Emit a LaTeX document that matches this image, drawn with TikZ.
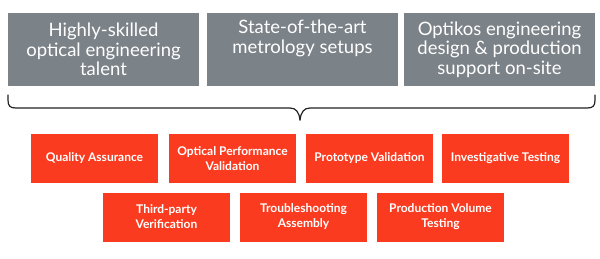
\documentclass[tikz,border=0pt]{standalone}
\usepackage{fontspec}
\setmainfont{Lato}
\definecolor{graybox}{HTML}{7B8288}
\definecolor{redbox}{HTML}{FA3B1F}
\definecolor{bracecol}{HTML}{222222}
\begin{document}
\begin{tikzpicture}[x=1pt,y=-1pt,
  topbox/.style={fill=graybox,draw=none,text=white,minimum width=191pt,minimum height=73pt,align=center,inner sep=0pt,font=\fontsize{18.5}{19.5}\selectfont},
  redb/.style={fill=redbox,draw=none,text=white,minimum width=127pt,minimum height=49pt,align=center,inner sep=0pt,font=\fontsize{12}{15}\selectfont\bfseries},
  bracel/.style={draw=bracecol,line width=1.2pt,line cap=round}]
\useasboundingbox (0,0) rectangle (600,258);
\node[topbox] (t1) at (103.5,49.5) {Highly-skilled\\optical engineering\\talent};
\node[topbox] (t2) at (302.5,49.5) {State-of-the-art\\metrology setups\\\strut};
\node[topbox] (t3) at (499.5,49.5) {Optikos engineering\\design \& production\\support on-site};
\coordinate (bl) at (8,95);
\coordinate (bm) at (300,120);
\coordinate (br) at (595,95);
\draw[bracel] (bl) -- (8,100) .. controls (8,106) and (10,108) .. (16,108) -- (290,108) .. controls (296,108) and (299,112) .. (bm);
\draw[bracel] (bm) .. controls (301,112) and (304,108) .. (310,108) -- (587,108) .. controls (593,108) and (595,106) .. (595,100) -- (br);
\node[redb] (r1) at (94.5,158.5) {Quality Assurance};
\node[redb] (r2) at (232.5,158.5) {Optical Performance\\Validation};
\node[redb] (r3) at (369.5,158.5) {Prototype Validation};
\node[redb] (r4) at (505.5,158.5) {Investigative Testing};
\node[redb] (r5) at (166.5,217) {Third-party\\Verification};
\node[redb] (r6) at (303.5,217) {Troubleshooting\\Assembly};
\node[redb] (r7) at (440.5,217) {Production Volume\\Testing};
\end{tikzpicture}
\end{document}
